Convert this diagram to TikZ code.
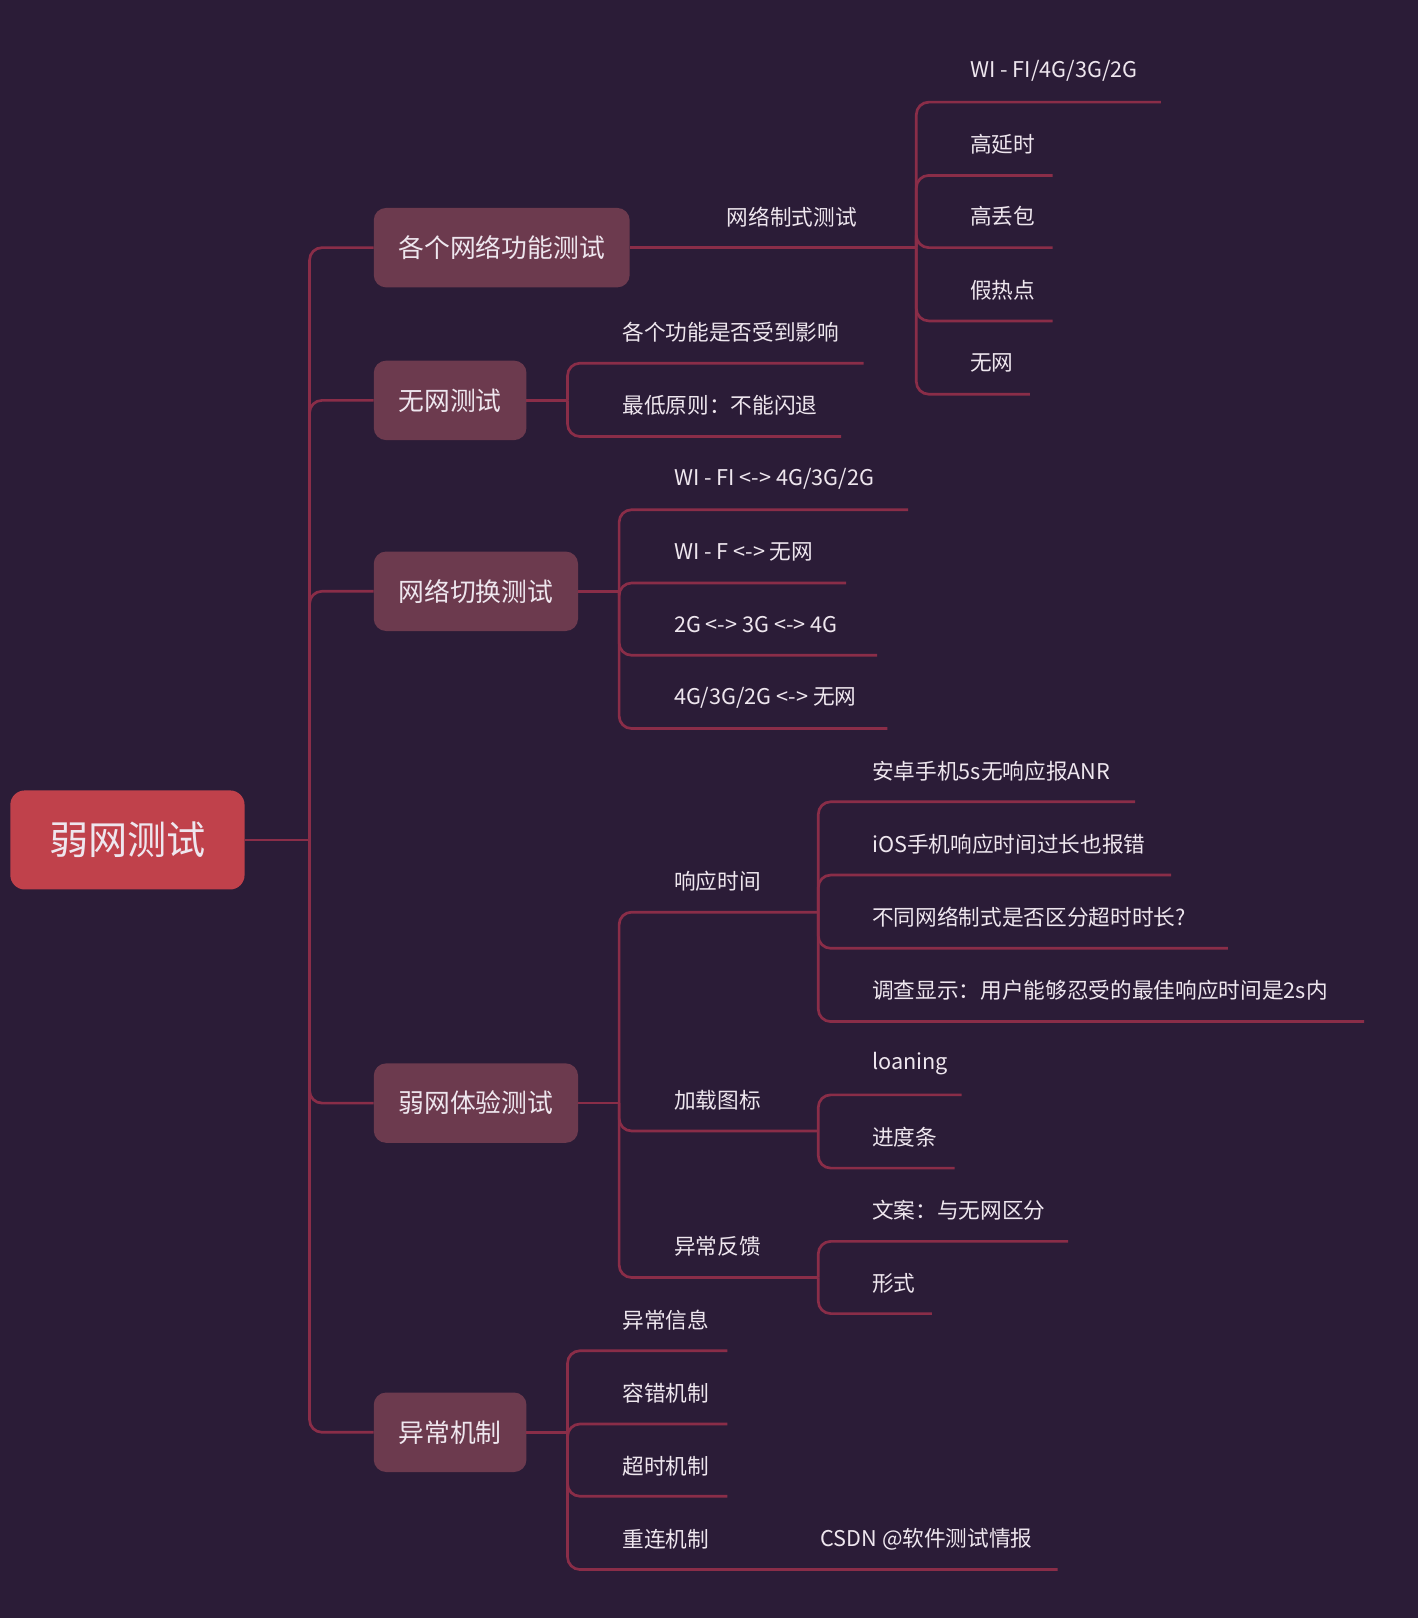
\documentclass[tikz,border=0pt]{standalone}
\usepackage{fontspec}
\setmainfont{Noto Sans CJK SC}
\definecolor{bg}{HTML}{2B1C37}
\definecolor{rootc}{HTML}{C0414B}
\definecolor{boxc}{HTML}{6C3A4E}
\definecolor{linec}{HTML}{8A2D48}
\definecolor{txt}{HTML}{EEE6EE}
\tikzset{
 rootbox/.style={fill=rootc,rounded corners=14pt,minimum width=227pt,minimum height=96pt,text=txt,font=\fontsize{38}{44}\selectfont},
 lvbox/.style={fill=boxc,rounded corners=12pt,minimum height=77pt,text=txt,font=\fontsize{25}{30}\selectfont,anchor=west,inner xsep=23pt},
 leaf/.style={anchor=west,text=txt,font=\fontsize{21}{25}\selectfont,inner sep=0pt},
 conn/.style={draw=linec,line width=2.6pt,rounded corners=12pt},
 stem/.style={draw=linec,line width=2.6pt}
}
\newcommand{\brx}[5]{\draw[stem] (#1,#2) -- (#3,#2); \draw[conn] (#3,#2) -- (#3,#4) -- (#5,#4);}
\begin{document}
\begin{tikzpicture}[x=1pt,y=-1pt]
\fill[bg] (0,0) rectangle (1374,1568);
\useasboundingbox (0,0) rectangle (1374,1568);
\node[rootbox] (root) at (123.5,814) {弱网测试};
\node[lvbox,minimum width=248pt] (a) at (362,240) {各个网络功能测试};
\node[lvbox,minimum width=148pt] (b) at (362,388) {无网测试};
\node[lvbox,minimum width=198pt] (c) at (362,573) {网络切换测试};
\node[lvbox,minimum width=198pt] (d) at (362,1069) {弱网体验测试};
\node[lvbox,minimum width=148pt] (e) at (362,1388) {异常机制};
\coordinate (rj) at (300,814);
\draw[stem] (root.east) -- (rj);
\foreach \n in {a,b,c,d,e}{\draw[conn] (rj) |- (\n.west);}
% a
\draw[stem] (a.east) -- (888,240);
\node[leaf] (a1) at (704,210) {网络制式测试};
\brx{888}{240}{888}{99}{1125}
\brx{888}{240}{888}{170}{1020}
\brx{888}{240}{888}{240}{1020}
\brx{888}{240}{888}{311}{1020}
\brx{888}{240}{888}{382}{998}
\node[leaf] at (940,69) {WI - FI/4G/3G/2G};
\node[leaf] at (940,140) {高延时};
\node[leaf] at (940,210) {高丢包};
\node[leaf] at (940,281) {假热点};
\node[leaf] at (940,352) {无网};
% b
\brx{510}{388}{550}{352}{837}
\brx{510}{388}{550}{423}{815}
\node[leaf] at (603,322) {各个功能是否受到影响};
\node[leaf] at (603,393) {最低原则：不能闪退};
% c
\brx{560}{573}{600}{494}{880}
\brx{560}{573}{600}{565}{820}
\brx{560}{573}{600}{635}{850}
\brx{560}{573}{600}{706}{860}
\node[leaf] at (653,464) {WI - FI <-> 4G/3G/2G};
\node[leaf] at (653,535) {WI - F <-> 无网};
\node[leaf] at (653,605) {2G <-> 3G <-> 4G};
\node[leaf] at (653,676) {4G/3G/2G <-> 无网};
% d
\brx{560}{1069}{600}{884}{793}
\brx{560}{1069}{600}{1096}{793}
\brx{560}{1069}{600}{1238}{793}
\node[leaf] at (653,854) {响应时间};
\node[leaf] at (653,1066) {加载图标};
\node[leaf] at (653,1208) {异常反馈};
\brx{793}{884}{793}{777}{1100}
\brx{793}{884}{793}{848}{1135}
\brx{793}{884}{793}{919}{1190}
\brx{793}{884}{793}{990}{1322}
\node[leaf] at (845,747) {安卓手机5s无响应报ANR};
\node[leaf] at (845,818) {iOS手机响应时间过长也报错};
\node[leaf] at (845,889) {不同网络制式是否区分超时时长?};
\node[leaf] at (845,960) {调查显示：用户能够忍受的最佳响应时间是2s内};
\brx{793}{1096}{793}{1061}{932}
\brx{793}{1096}{793}{1132}{925}
\node[leaf] at (845,1031) {loaning};
\node[leaf] at (845,1102) {进度条};
\brx{793}{1238}{793}{1203}{1035}
\brx{793}{1238}{793}{1273}{903}
\node[leaf] at (845,1173) {文案：与无网区分};
\node[leaf] at (845,1244) {形式};
% e
\brx{510}{1388}{550}{1309}{705}
\brx{510}{1388}{550}{1380}{705}
\brx{510}{1388}{550}{1450}{705}
\brx{510}{1388}{550}{1521}{1025}
\node[leaf] at (603,1279) {异常信息};
\node[leaf] at (603,1350) {容错机制};
\node[leaf] at (603,1421) {超时机制};
\node[leaf] at (603,1492) {重连机制};
\node[leaf] at (795,1492) {CSDN @软件测试情报};
\end{tikzpicture}
\end{document}
